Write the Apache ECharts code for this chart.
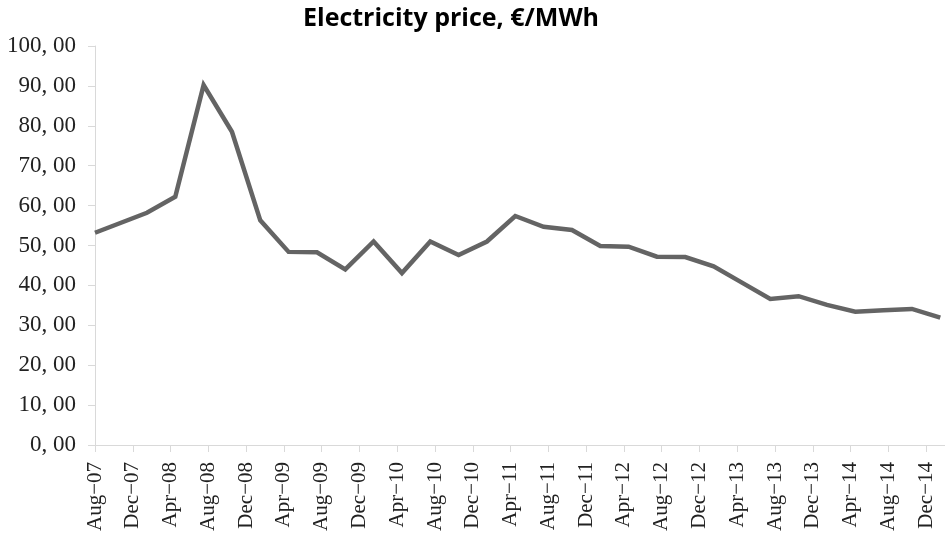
<!DOCTYPE html>
<html>
<head>
<meta charset="utf-8">
<script src="https://cdn.jsdelivr.net/npm/echarts@6/dist/echarts.min.js"></script>
<style>
  html, body { margin: 0; padding: 0; background: #fff; }
  #chart { width: 945px; height: 536px; }
</style>
</head>
<body>
<div id="chart"></div>
<script>
// Observation dates of the quarterly price series
const dates = [
  '2007-08-01', '2008-01-16', '2008-04-16', '2008-07-16', '2008-10-16',
  '2009-01-16', '2009-04-16', '2009-07-16', '2009-10-16', '2010-01-16',
  '2010-04-16', '2010-07-16', '2010-10-16', '2011-01-16', '2011-04-16',
  '2011-07-16', '2011-10-16', '2012-01-16', '2012-04-16', '2012-07-16',
  '2012-10-16', '2013-01-16', '2013-04-16', '2013-07-16', '2013-10-16',
  '2014-01-16', '2014-04-16', '2014-07-16', '2014-10-16', '2015-01-16'
];

// Electricity price, €/MWh
const prices = [
  53.2, 58.2, 62.2, 90.2, 78.5,
  56.3, 48.4, 48.3, 44.0, 51.0,
  43.1, 51.0, 47.6, 51.0, 57.4,
  54.7, 53.9, 49.9, 49.7, 47.2,
  47.1, 44.8, 40.7, 36.6, 37.3,
  35.1, 33.4, 33.8, 34.1, 31.9
];

const monthNames = ['Jan', 'Feb', 'Mar', 'Apr', 'May', 'Jun',
                    'Jul', 'Aug', 'Sep', 'Oct', 'Nov', 'Dec'];

// Axis starts at August 2007; x values are months elapsed since then
const startYear = 2007;
const startMonth = 7; // zero-based (August)

function monthOffset(d) {
  const [y, m, day] = d.split('-').map(Number);
  return (y - startYear) * 12 + (m - 1 - startMonth) + (day - 1) / 30;
}

function monthLabel(v) {
  if (v % 4 !== 0) return '';
  const total = startMonth + v;
  const y = startYear + Math.floor(total / 12);
  const m = total % 12;
  return monthNames[m] + '\u2212' + String(y % 100).padStart(2, '0');
}

const seriesData = dates.map((d, i) => [monthOffset(d), prices[i]]);

const chart = echarts.init(document.getElementById('chart'));
chart.setOption({
  animation: false,
  backgroundColor: '#ffffff',
  graphic: [{
    type: 'text',
    x: 451,
    y: 6,
    style: {
      text: 'Electricity price, €/MWh',
      fontFamily: 'Open Sans',
      fontWeight: 'bold',
      fontSize: 25,
      fill: '#000000',
      align: 'center',
      verticalAlign: 'top'
    }
  }],
  grid: {
    left: 95,
    right: 0,
    top: 46,
    bottom: 91,
    containLabel: false,
    outerBoundsMode: 'none'
  },
  xAxis: {
    type: 'value',
    min: 0,
    max: 90,
    interval: 4,
    axisLine: { show: true, lineStyle: { color: '#d9d9d9', width: 1 } },
    axisTick: { show: true, length: 7, lineStyle: { color: '#d9d9d9' } },
    splitLine: { show: false },
    axisLabel: {
      rotate: 90,
      margin: 17,
      fontFamily: 'Liberation Serif',
      fontSize: 21,
      color: '#222222',
      showMaxLabel: false,
      formatter: monthLabel
    }
  },
  yAxis: {
    type: 'value',
    min: 0,
    max: 100,
    interval: 10,
    axisLine: { show: true, lineStyle: { color: '#d9d9d9', width: 1 } },
    axisTick: { show: true, length: 7, lineStyle: { color: '#d9d9d9' } },
    splitLine: { show: false },
    axisLabel: {
      margin: 19,
      fontFamily: 'Liberation Serif',
      fontSize: 23,
      color: '#222222',
      formatter: v => v.toFixed(2).replace('.', ', ')
    }
  },
  series: [{
    type: 'line',
    data: seriesData,
    showSymbol: false,
    symbol: 'none',
    lineStyle: { color: '#646464', width: 4.5, join: 'miter' },
    clip: false
  }]
});
</script>
</body>
</html>
